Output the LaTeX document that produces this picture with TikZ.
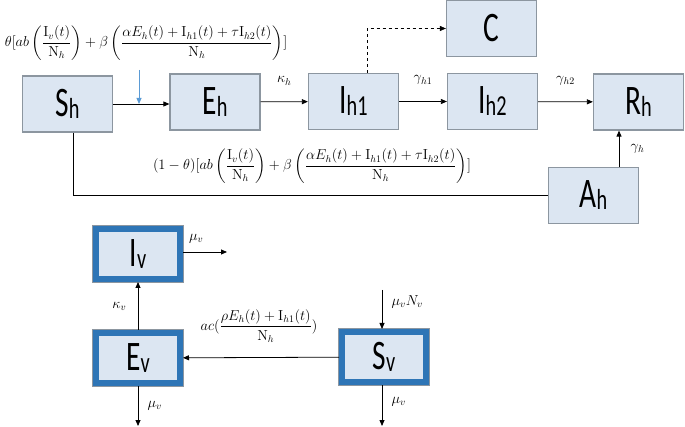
\documentclass[tikz,border=0pt]{standalone}
\usepackage{amsmath}
\usepackage{fontspec}
\usepackage{graphicx}
\usepackage{tikz}
\usetikzlibrary{arrows.meta}

\newfontfamily\boxfont{Carlito}
\definecolor{boxfill}{HTML}{DCE6F2}
\definecolor{boxedge}{HTML}{8C96A0}
\definecolor{vecblue}{HTML}{2E75B6}
\definecolor{infblue}{HTML}{5B9BD5}

\newcommand{\comp}[2]{\scalebox{0.7}[1]{\boxfont\fontsize{42}{42}\selectfont #1\raisebox{-2pt}{\fontsize{29}{29}\selectfont #2}}}

\begin{document}
\begin{tikzpicture}[x=1pt,y=-1pt,
    hbox/.style={draw=boxedge, fill=boxfill, line width=1.2pt, minimum width=90pt, minimum height=56pt, inner sep=0pt},
    vbox/.style={draw=vecblue, fill=boxfill, line width=6pt, preaction={draw=boxedge, line width=8pt}, minimum width=84pt, minimum height=50pt, inner sep=0pt},
    flow/.style={-{Triangle[length=6pt,width=5pt]}, line width=0.8pt},
    rate/.style={font=\fontsize{14.5}{17}\selectfont}]
    \useasboundingbox (0,0) rectangle (685,427);
    % host compartments
    \node[hbox] (Sh) at (67.5,104) {\comp{S}{h}};
    \node[hbox] (Eh) at (215,102) {\comp{E}{h}};
    \node[hbox] (Ih1) at (353.5,101.5) {\comp{I}{h1}};
    \node[hbox] (C) at (491.5,28.5) {\comp{C}{}};
    \node[hbox] (Ih2) at (492.5,101.5) {\comp{I}{h2}};
    \node[hbox] (Rh) at (638.5,102) {\comp{R}{h}};
    \node[hbox] (Ah) at (593.5,195.5) {\comp{A}{h}};
    % vector compartments
    \node[vbox] (Iv) at (138,254) {\comp{I}{v}};
    \node[vbox] (Ev) at (138,358) {\comp{E}{v}};
    \node[vbox] (Sv) at (384,357) {\comp{S}{v}};
    % forces of infection
    \node[rate] (lamh) at (146,43) {$\displaystyle\theta[ab\left(\frac{\mathrm{I}_v(t)}{\mathrm{N}_h}\right)+\beta\left(\frac{\alpha E_h(t)+\mathrm{I}_{h1}(t)+\tau\mathrm{I}_{h2}(t)}{\mathrm{N}_h}\right)]$};
    \node[rate] (lama) at (312,166) {$\displaystyle(1-\theta)[ab\left(\frac{\mathrm{I}_v(t)}{\mathrm{N}_h}\right)+\beta\left(\frac{\alpha E_h(t)+\mathrm{I}_{h1}(t)+\tau\mathrm{I}_{h2}(t)}{\mathrm{N}_h}\right)]$};
    \node[rate] (lamv) at (259,326) {$\displaystyle ac(\frac{\rho E_h(t)+\mathrm{I}_{h1}(t)}{\mathrm{N}_h})$};
    % host flows
    \coordinate (inf) at (139,70);
    \draw[flow] (Sh.east) -- (Sh.east -| Eh.west);
    \draw[flow, infblue] (inf) -- (inf |- Sh.east);
    \draw[flow] (Eh) -- (Ih1) node[rate, pos=0.5, above=13pt] (kh) {$\kappa_h$};
    \draw[flow] (Ih1) -- (Ih2) node[rate, pos=0.5, above=13pt] (gh1) {$\gamma_{h1}$};
    \draw[flow] (Ih2) -- (Rh) node[rate, pos=0.5, above=13pt] (gh2) {$\gamma_{h2}$};
    \draw[flow, dashed, line width=0.6pt] ([xshift=13.5pt]Ih1.north) |- (C.west);
    \draw[line width=0.8pt] ([xshift=5.5pt]Sh.south) |- (Ah.west);
    \draw[flow] ([xshift=25.5pt]Ah.north) coordinate (ar) -- (ar |- Rh.south) node[rate, pos=0.5, right=8pt] (gh) {$\gamma_h$};
    % vector flows
    \coordinate (ivout) at (227,252);
    \coordinate (evout) at (138,426);
    \coordinate (svin) at (382,290);
    \coordinate (svout) at (382,426);
    \draw[flow] (Ev) -- (Iv) node[rate, pos=0.5, left=8pt] (kv) {$\kappa_v$};
    \draw[flow] (Iv.east |- ivout) -- (ivout) node[rate, pos=0.3, above=5pt] (mv1) {$\mu_v$};
    \draw[flow] (Ev.south) -- (evout) node[rate, pos=0.5, right=6pt] (mv2) {$\mu_v$};
    \draw[flow] (svin) -- (svin |- Sv.north) node[rate, pos=0.3, right=6pt] (nv) {$\mu_v N_v$};
    \draw[flow] (svin |- Sv.south) -- (svout) node[rate, pos=0.4, right=6pt] (mv3) {$\mu_v$};
    \draw[flow] (Sv) -- (Ev);
\end{tikzpicture}
\end{document}
